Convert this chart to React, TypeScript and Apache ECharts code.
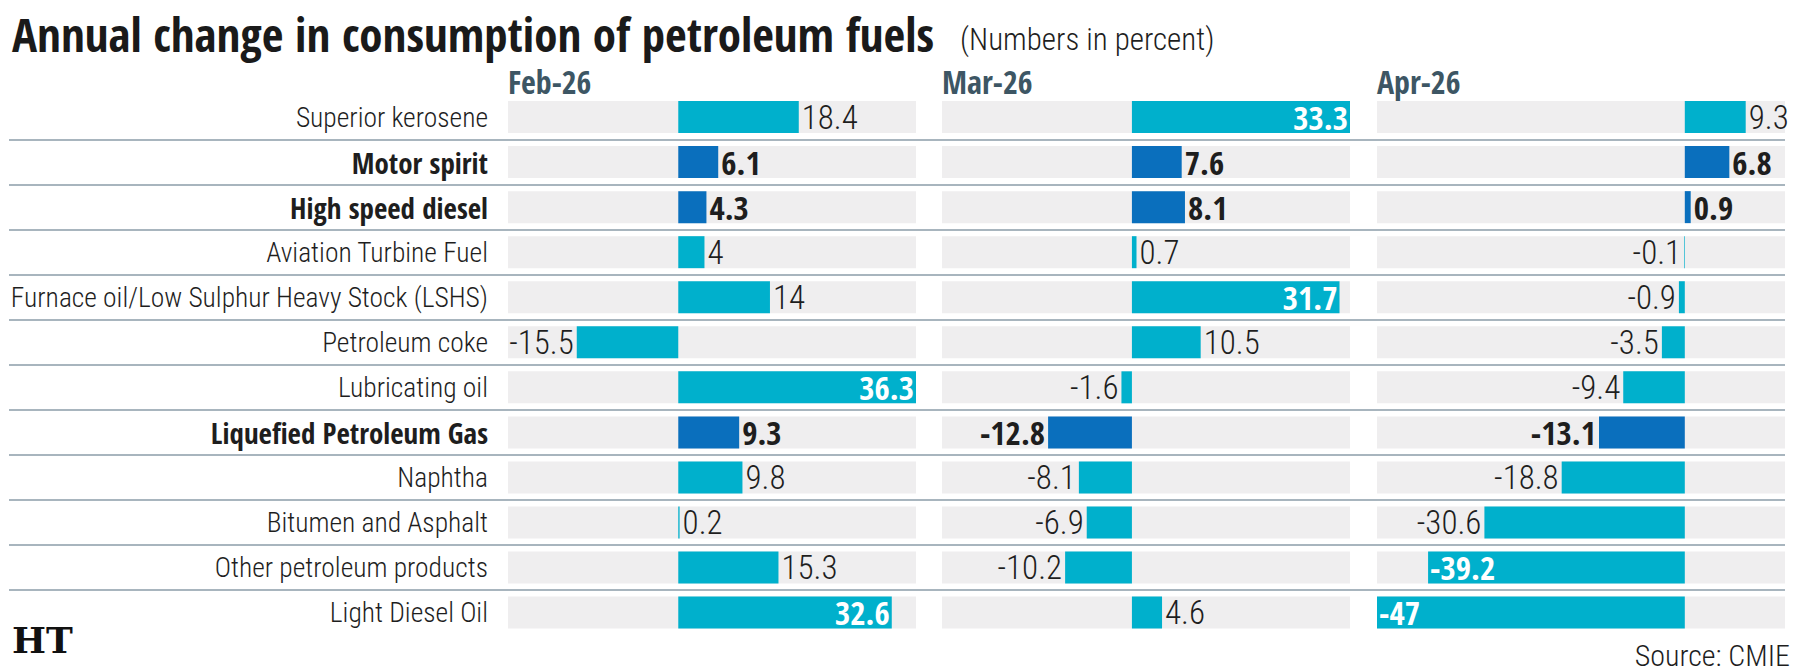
import React, { useEffect, useRef } from "react";
import * as echarts from "echarts";

// Fuel categories, top to bottom
const fuels = [
  "Superior kerosene",
  "Motor spirit",
  "High speed diesel",
  "Aviation Turbine Fuel",
  "Furnace oil/Low Sulphur Heavy Stock (LSHS)",
  "Petroleum coke",
  "Lubricating oil",
  "Liquefied Petroleum Gas",
  "Naphtha",
  "Bitumen and Asphalt",
  "Other petroleum products",
  "Light Diesel Oil",
];
// Fuels drawn in bold with the darker bar colour
const highlighted = ["Motor spirit", "High speed diesel", "Liquefied Petroleum Gas"];

const months = ["Feb-26", "Mar-26", "Apr-26"];
// Annual change, percent
const feb26 = [18.4, 6.1, 4.3, 4, 14, -15.5, 36.3, 9.3, 9.8, 0.2, 15.3, 32.6];
const mar26 = [33.3, 7.6, 8.1, 0.7, 31.7, 10.5, -1.6, -12.8, -8.1, -6.9, -10.2, 4.6];
const apr26 = [9.3, 6.8, 0.9, -0.1, -0.9, -3.5, -9.4, -13.1, -18.8, -30.6, -39.2, -47];
// Value-axis extent of each panel
const panelMin = [-26, -29, -47];
const panelMax = [36.3, 33.3, 15.3];

const seriesValues = [feb26, mar26, apr26];

// Layout
const W = 1810;
const H = 670;
const PANEL_LEFT = [508, 942, 1377];
const PANEL_WIDTH = 408;
const TOP = 94.5;
const ROW = 45.05;
const PX_PER_UNIT = PANEL_WIDTH / 62.3;

const LIGHT = "#00b0cc";
const DARK = "#0a6fbd";
const BAND = "#efeeef";
const TEXT = "#1e1e1e";
const REG = '"Roboto Condensed", "Liberation Sans Narrow", sans-serif';
const BOLD = '"Open Sans Condensed", "Roboto Condensed", sans-serif';

function barData(values: number[], p: number) {
  return values.map((v, i) => {
    const bold = highlighted.includes(fuels[i]);
    const room = (v >= 0 ? panelMax[p] - v : v - panelMin[p]) * PX_PER_UNIT;
    const inside = room < String(v).length * 11;
    const position = inside ? (v >= 0 ? "insideRight" : "insideLeft") : v >= 0 ? "right" : "left";
    return {
      value: v,
      itemStyle: { color: bold ? DARK : LIGHT },
      label: {
        position,
        distance: inside ? 2 : 3,
        color: inside ? "#ffffff" : TEXT,
        fontFamily: bold || inside ? BOLD : REG,
        fontWeight: bold || inside ? "bold" : 300,
      },
    };
  });
}

export default function App() {
  const ref = useRef<HTMLDivElement>(null);
  useEffect(() => {
    const chart = echarts.init(ref.current!, null, { renderer: "svg" });
    const grids: any[] = PANEL_LEFT.map((left) => ({
      left,
      width: PANEL_WIDTH,
      top: TOP,
      height: ROW * fuels.length,
      outerBoundsMode: "none",
      containLabel: false,
    }));
    // full-width grid carrying the row separators
    grids.push({
      left: 9,
      width: PANEL_LEFT[2] + PANEL_WIDTH - 9,
      top: TOP,
      height: ROW * fuels.length,
      outerBoundsMode: "none",
      containLabel: false,
    });

    const xAxes: any[] = PANEL_LEFT.map((_, p) => ({
      type: "value",
      gridIndex: p,
      min: panelMin[p],
      max: panelMax[p],
      show: false,
    }));
    xAxes.push({ type: "value", gridIndex: 3, min: 0, max: 1, show: false });

    const yAxes: any[] = PANEL_LEFT.map((_, p) => ({
      type: "category",
      gridIndex: p,
      data: fuels,
      inverse: true,
      axisLine: { show: false },
      axisTick: { show: false },
      splitLine: { show: false },
      axisLabel: {
        show: p === 0,
        margin: 20,
        formatter: (v: string) => (highlighted.includes(v) ? `{b|${v}}` : `{n|${v}}`),
        rich: {
          n: { fontFamily: REG, fontWeight: 300, fontSize: 27.5, color: TEXT },
          b: { fontFamily: BOLD, fontWeight: "bold", fontSize: 29, color: TEXT },
        },
      },
    }));
    yAxes.push({
      type: "value",
      gridIndex: 3,
      min: 0,
      max: fuels.length,
      interval: 1,
      inverse: true,
      axisLine: { show: false },
      axisTick: { show: false },
      axisLabel: { show: false },
      splitLine: {
        show: true,
        showMinLine: false,
        showMaxLine: false,
        lineStyle: { color: "#a8b5be", width: 2 },
      },
    });

    chart.setOption({
      animation: false,
      grid: grids,
      xAxis: xAxes,
      yAxis: yAxes,
      series: seriesValues.map((vals, p) => ({
        type: "bar",
        name: months[p],
        xAxisIndex: p,
        yAxisIndex: p,
        barWidth: 32,
        showBackground: true,
        backgroundStyle: { color: BAND },
        data: barData(vals, p),
        label: {
          show: true,
          formatter: "{c}",
          fontSize: 33,
        },
      })),
      graphic: [
        {
          type: "text",
          x: 12,
          y: 34,
          style: {
            text: "Annual change in consumption of petroleum fuels",
            font: `bold 47px ${BOLD}`,
            fill: "#1a1a1a",
            verticalAlign: "middle",
          },
        },
        {
          type: "text",
          x: 960,
          y: 39,
          style: {
            text: "(Numbers in percent)",
            font: `300 31px ${REG}`,
            fill: TEXT,
            verticalAlign: "middle",
          },
        },
        ...months.map((m, p) => ({
          type: "text",
          x: PANEL_LEFT[p],
          y: 81,
          style: {
            text: m,
            font: `bold 32px ${BOLD}`,
            fill: "#3d5664",
            verticalAlign: "middle",
          },
        })),
        {
          type: "text",
          x: 12,
          y: 640,
          style: {
            text: "HT",
            font: 'bold 36px "DejaVu Serif", serif',
            fill: "#111",
            verticalAlign: "middle",
          },
        },
        {
          type: "text",
          x: 1790,
          y: 655,
          style: {
            text: "Source: CMIE",
            font: `300 30px ${REG}`,
            fill: TEXT,
            align: "right",
            verticalAlign: "middle",
          },
        },
      ],
    });
    return () => chart.dispose();
  }, []);
  return (
    <div
      ref={ref}
      style={{ position: "fixed", left: 0, top: 0, width: W, height: H, background: "#fff" }}
    />
  );
}
